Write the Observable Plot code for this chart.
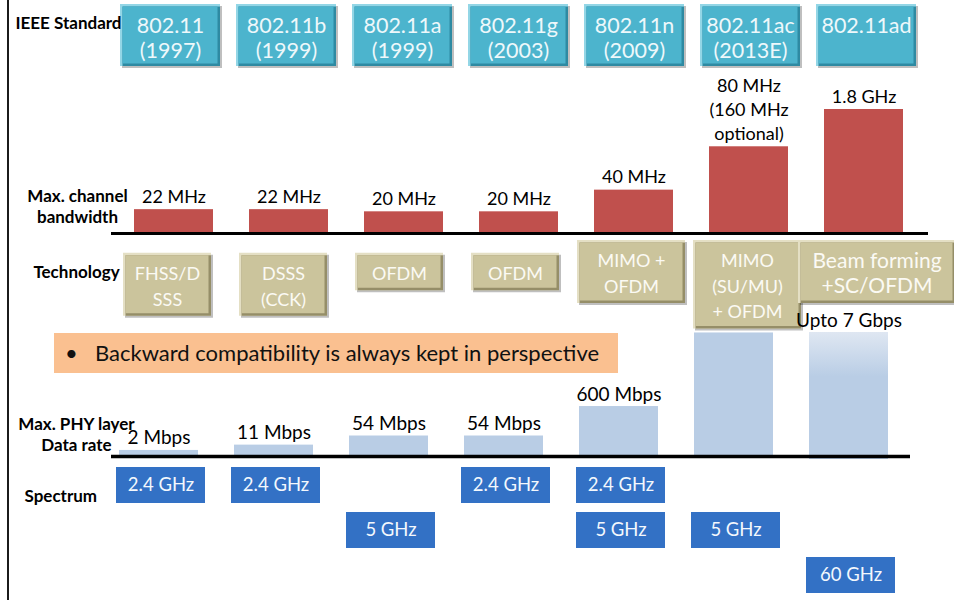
<!DOCTYPE html>
<html>
<head>
<meta charset="utf-8">
<script src="https://cdn.jsdelivr.net/npm/d3@7"></script>
<script src="https://cdn.jsdelivr.net/npm/@observablehq/plot@0.6"></script>
<style>
  body { margin: 0; background: #fff; font-family: Lato, sans-serif; }
  #chart { position: relative; width: 954px; height: 600px; overflow: hidden; background: #fff; }
  #chart svg { position: absolute; left: 0; top: 0; }
  .edge { position: absolute; left: 7px; top: 0; width: 2px; height: 600px; background: #1b1b1b; }
  .note { position: absolute; left: 54px; top: 333px; width: 564px; height: 40px; background: #fac090;
          font-size: 22px; line-height: 40px; color: #111; white-space: nowrap; }
  .note .bullet { position: absolute; left: 11px; }
  .note .txt { position: absolute; left: 41px; }
</style>
</head>
<body>
<div id="chart"><div class="edge"></div></div>
<script>
// IEEE 802.11 generations
const standards = ["802.11", "802.11b", "802.11a", "802.11g", "802.11n", "802.11ac", "802.11ad"];
const years = ["1997", "1999", "1999", "2003", "2009", "2013E", ""];

// Max. channel bandwidth (MHz)
const bandwidthMHz = [22, 22, 20, 20, 40, 80, 1800];
const bandwidthLabels = ["22 MHz", "22 MHz", "20 MHz", "20 MHz", "40 MHz", "80 MHz\n(160 MHz\noptional)", "1.8 GHz"];

// PHY technology
const technologies = ["FHSS/D\nSSS", "DSSS\n(CCK)", "OFDM", "OFDM", "MIMO +\nOFDM", "MIMO\n(SU/MU)\n+ OFDM", "Beam forming\n+SC/OFDM"];

// Max. PHY layer data rate (Mbps)
const dataRateMbps = [2, 11, 54, 54, 600, 6930, 7000];
const dataRateLabels = ["2 Mbps", "11 Mbps", "54 Mbps", "54 Mbps", "600 Mbps", "", "Upto 7 Gbps"];

// Spectrum bands (GHz), one entry per band per standard
const spectrumStandards = ["802.11", "802.11b", "802.11a", "802.11g", "802.11n", "802.11n", "802.11ac", "802.11ad"];
const spectrumGHz = [2.4, 2.4, 5, 2.4, 2.4, 5, 5, 60];

const rowLabels = ["IEEE Standard", "Max. channel\nbandwidth", "Technology", "Max. PHY layer\nData rate", "Spectrum"];
const note = "Backward compatibility is always kept in perspective";

// Tables
const columns = standards.map((std, i) => ({
  std,
  year: years[i],
  bw: bandwidthMHz[i],
  bwLabel: bandwidthLabels[i],
  tech: technologies[i],
  lines: technologies[i].split("\n").length,
  rate: dataRateMbps[i],
  rateLabel: dataRateLabels[i]
}));
const spectrum = spectrumStandards.map((std, i) => ({std, ghz: spectrumGHz[i], band: `${spectrumGHz[i]} GHz`}));
const bands = Array.from(new Set(spectrumGHz)).sort((a, b) => a - b).map((g) => `${g} GHz`);

const chart = document.getElementById("chart");
const FONT = "Lato, sans-serif";

function layer(options) {
  const svg = Plot.plot({
    width: 954,
    height: 600,
    margin: 0,
    style: {background: "transparent", fontFamily: FONT},
    ...options
  });
  chart.appendChild(svg);
  return svg;
}

// Bevelled box: drop shadow, light top-left rim, dark bottom-right rim, face
function bevelBoxes(data, {x, y1, y2, insetLeft = 0, insetRight = 0, insetTop = 0, insetBottom = 0, face, light, dark, rim = 2.5}) {
  const base = {x, y1, y2, insetLeft, insetRight, insetTop, insetBottom};
  return [
    Plot.barY(data, {...base, fill: "#000", fillOpacity: 0.25, dx: 2, dy: 2}),
    Plot.barY(data, {...base, fill: light}),
    Plot.barY(data, {...base, insetLeft: insetLeft + rim, insetTop: insetTop + rim, fill: dark}),
    Plot.barY(data, {...base, insetLeft: insetLeft + rim, insetTop: insetTop + rim,
      insetRight: insetRight + rim, insetBottom: insetBottom + rim, fill: face})
  ];
}

const teal = {face: "#4cb4cd", light: "#93d6e6", dark: "#2e8aa2"};
const khaki = {face: "#cbc49c", light: "#e4dfc4", dark: "#958e68"};

// Row 1: standard names
layer({
  x: {type: "band", domain: standards, range: [111, 925.7], padding: 0, axis: null},
  y: {domain: [0, 1], range: [4, 66], axis: null},
  marks: [
    ...bevelBoxes(columns, {x: "std", y1: () => 0, y2: () => 1, insetLeft: 8, insetRight: 8, ...teal}),
    Plot.text(columns, {
      x: "std", y: () => 0,
      text: (d) => d.year ? `${d.std}\n(${d.year})` : d.std,
      lineAnchor: "top", dy: 10.5, fontSize: 21.5, lineHeight: 25 / 21.5, fill: "#eef8fb"
    })
  ]
});

// Row 2: channel bandwidth bars; the scale breaks above 80 MHz
const bandwidthBreak = (v) => (v <= 80 ? v : 80 + (v - 80) / 50);
layer({
  marginLeft: 111, marginRight: 26,
  x: {type: "band", domain: standards, range: [113.9, 923.1], padding: 0, axis: null},
  y: {transform: bandwidthBreak, range: [233, 109], axis: null},
  marks: [
    Plot.barY(columns, {x: "std", y: "bw", fill: "#c0504d", insetLeft: 18, insetRight: 18}),
    Plot.ruleY([0], {stroke: "#000", strokeWidth: 3}),
    Plot.text(columns, {x: "std", y: "bw", text: "bwLabel", lineAnchor: "bottom", dy: -7,
      fontSize: 18, lineHeight: 1.34, fill: "#000"})
  ]
});

// Row 3: technology boxes; MIMO-era boxes start half a line higher
const mimoEra = new Set(["802.11n", "802.11ac", "802.11ad"]);
const techRows = columns.map((d) => ({...d, top: mimoEra.has(d.std) ? 0 : 0.5}));

function techBoxes(data, {insetLeft, insetRight, fontSize = 18, lineHeight = 25.5 / 18}) {
  return [
    ...bevelBoxes(data, {
      x: "std", y1: "top", y2: (d) => d.top + d.lines,
      insetLeft, insetRight, insetTop: -6, insetBottom: -6, ...khaki
    }),
    Plot.text(data, {
      x: "std", y: (d) => d.top + d.lines / 2, text: "tech",
      dx: (insetLeft - insetRight) / 2, fontSize, lineHeight, fill: "#fbfaf4"
    })
  ];
}

layer({
  x: {type: "band", domain: standards, range: [108.2, 921.6], padding: 0, axis: null},
  y: {domain: [0, 1], range: [246, 271.5], axis: null},
  marks: [
    ...techBoxes(techRows.filter((d) => !mimoEra.has(d.std)), {insetLeft: 14, insetRight: 14}),
    ...techBoxes(techRows.filter((d) => d.std === "802.11n" || d.std === "802.11ac"), {insetLeft: 4, insetRight: 4}),
    ...techBoxes(techRows.filter((d) => d.std === "802.11ad"), {insetLeft: -7, insetRight: -34, fontSize: 21, lineHeight: 25 / 21})
  ]
});

// Row 4: PHY data rate bars on a power scale
const rateSvg = layer({
  marginLeft: 111, marginRight: 44,
  x: {type: "band", domain: standards, range: [99.5, 908], padding: 0, axis: null},
  y: {type: "pow", exponent: 0.37, domain: [0, 7000], range: [456, 332], axis: null},
  marks: [
    Plot.barY(columns.filter((d) => d.std !== "802.11ad"), {x: "std", y: "rate", fill: "#b9cde5", insetLeft: 18, insetRight: 18}),
    Plot.barY(columns.filter((d) => d.std === "802.11ad"), {x: "std", y: "rate", fill: "url(#rate-fade)", insetLeft: 18, insetRight: 18, insetBottom: -3}),
    Plot.ruleY([0], {stroke: "#000", strokeWidth: 3.5}),
    Plot.text(columns.filter((d) => d.rateLabel), {x: "std", y: "rate", text: "rateLabel", lineAnchor: "bottom", dy: -6, fontSize: 19, fill: "#000"})
  ]
});
const grad = d3.select(rateSvg).insert("defs", ":first-child")
  .append("linearGradient").attr("id", "rate-fade")
  .attr("x1", 0).attr("y1", 0).attr("x2", 0).attr("y2", 1);
grad.append("stop").attr("offset", 0).attr("stop-color", "#dfe7f2");
grad.append("stop").attr("offset", 0.35).attr("stop-color", "#b9cde5");
grad.append("stop").attr("offset", 1).attr("stop-color", "#b9cde5");

// Row 5: spectrum bands, one row per band
layer({
  x: {type: "band", domain: standards, range: [102.7, 908.1], padding: 0, axis: null},
  y: {type: "point", domain: bands, range: [485, 575], padding: 0, axis: null},
  marks: [
    Plot.barY(spectrum, {x: "std", y1: "band", y2: "band", insetTop: -18, insetBottom: -18, insetLeft: 13, insetRight: 13, fill: "#3371c5"}),
    Plot.text(spectrum, {x: "std", y: "band", text: "band", fontSize: 18.5, fill: "#f4f8fd"})
  ]
});

// Row labels
const labelStyle = {text: (d) => d, frameAnchor: "top-left", lineAnchor: "middle", fontWeight: "bold", fontSize: 17, lineHeight: 1.24, fill: "#000"};
layer({
  marks: [
    Plot.text([rowLabels[0]], {...labelStyle, dx: 15, dy: 22, textAnchor: "start"}),
    Plot.text([rowLabels[1]], {...labelStyle, dx: 77, dy: 205.5, textAnchor: "middle"}),
    Plot.text([rowLabels[2]], {...labelStyle, dx: 76, dy: 271, textAnchor: "middle"}),
    Plot.text([rowLabels[3]], {...labelStyle, dx: 76, dy: 433.5, textAnchor: "middle"}),
    Plot.text([rowLabels[4]], {...labelStyle, dx: 24, dy: 494.5, textAnchor: "start"})
  ]
});

// Callout
const callout = document.createElement("div");
callout.className = "note";
callout.innerHTML = `<span class="bullet">•</span><span class="txt"></span>`;
callout.querySelector(".txt").textContent = note;
chart.appendChild(callout);
</script>
</body>
</html>
